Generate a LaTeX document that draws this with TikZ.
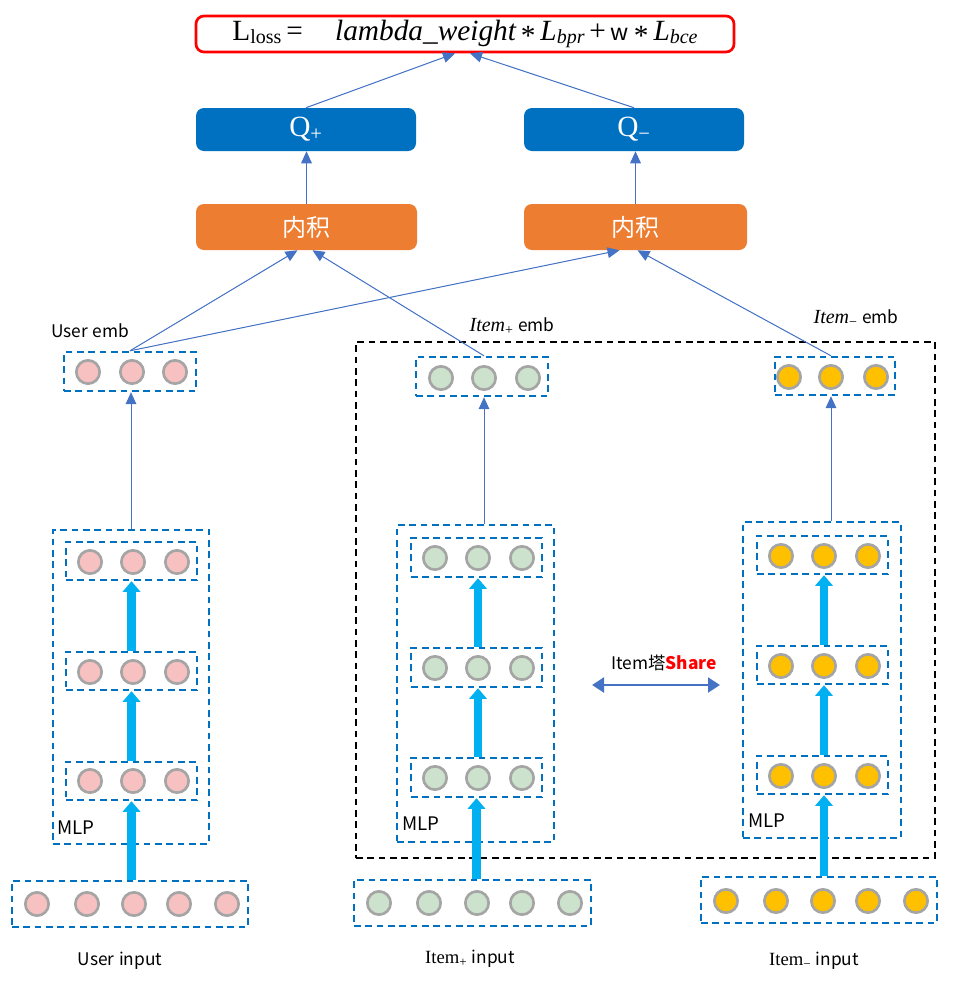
\documentclass[tikz,border=0pt]{standalone}
\usepackage{fontspec}
\newfontfamily\cjk{Noto Sans CJK SC}
\newfontfamily\cam{Liberation Serif}
\usetikzlibrary{arrows.meta,calc}
\definecolor{lblue}{HTML}{4472C4}
\definecolor{dblue}{HTML}{0070C0}
\definecolor{ora}{HTML}{ED7D31}
\definecolor{cyanarr}{HTML}{00B0F0}
\definecolor{pinkc}{HTML}{F8C1C1}
\definecolor{greenc}{HTML}{CCE2CC}
\definecolor{yelc}{HTML}{FFC000}
\definecolor{grayc}{HTML}{A5A5A5}
\newcommand\pbox[7]{\node[#6,inner sep=0pt,minimum width={(#4-#2)*0.75pt},minimum height={(#5-#3)*0.75pt}] (#1) at ({(#2+#4)/2},{(#3+#5)/2}) {#7};}
\newcommand\nrow[4]{\foreach \xx [count=\i] in {#4} {\node[neuron,fill=#3] (#1-\i) at (\xx,#2) {};}}
\newcommand\myast{\raisebox{-0.35ex}{*}}
\newcommand\bigsub[1]{\raisebox{-0.25ex}{\fontsize{15}{17}\selectfont #1}}
\begin{document}
\begin{tikzpicture}[x=0.75pt,y=-0.75pt,
  neuron/.style={circle,draw=grayc,line width=2pt,minimum size=17.5pt,inner sep=0pt},
  layerbox/.style={draw=dblue,line width=1.8pt,dash pattern=on 5pt off 3.5pt},
  sharebox/.style={draw=black,line width=1.5pt,dash pattern=on 5pt off 3.5pt},
  thinarr/.style={draw=lblue,line width=0.75pt,-{Triangle[length=9pt,width=8pt]},fill=lblue},
  thickarr/.style={draw=cyanarr,line width=6.5pt,-{Triangle[length=8pt,width=13pt]},fill=cyanarr},
  qbox/.style={fill=dblue,rounded corners=6pt,text=white,font=\cam\fontsize{22}{24}\selectfont},
  dotbox/.style={fill=ora,rounded corners=6pt,text=white,font=\cjk\fontsize{18}{20}\selectfont},
  lbl/.style={font=\cjk\fontsize{13}{15}\selectfont,inner sep=0pt},
]
\useasboundingbox (0,0) rectangle (953,982);
% loss
\pbox{loss}{196}{16}{734}{52}{draw=red,line width=2pt,rounded corners=6pt,font=\cam\fontsize{22}{24}\selectfont}{L\bigsub{loss}\,=\hspace{1.1em}{\itshape lambda\_weight}\,\myast\,{\itshape L}\bigsub{\itshape bpr}\,+\,{\cjk\fontsize{17}{20}\selectfont w}\,\myast\,{\itshape L}\bigsub{\itshape bce}}
% Q boxes
\pbox{qp}{196}{108}{416}{151}{qbox}{Q\textsubscript{+}}
\pbox{qm}{524}{108}{744}{151}{qbox}{Q\textsubscript{−}}
% inner product
\pbox{ipl}{196}{204}{417}{250}{dotbox}{内积}
\pbox{ipr}{524}{204}{747}{250}{dotbox}{内积}
% share region
\pbox{share}{356}{342}{935}{858}{sharebox}{}
% emb boxes
\pbox{uemb}{64}{352}{196}{391}{layerbox}{}
\nrow{ue}{372}{pinkc}{88,132,175}
\pbox{pemb}{416}{357}{548}{396}{layerbox}{}
\nrow{pe}{378}{greenc}{441,484,528}
\pbox{memb}{775}{357}{895}{395}{layerbox}{}
\nrow{me}{377}{yelc}{789,831,876}
% labels
\node[lbl] (uemblbl) at (90,331) {User\hspace{0.25em}emb};
\node[lbl] (pemblbl) at (512,326) {{\cam\itshape\fontsize{15}{17}\selectfont Item}{\cam\fontsize{15}{17}\selectfont\textsubscript{+}}\hspace{0.25em}emb};
\node[lbl] (memblbl) at (856,318) {{\cam\itshape\fontsize{15}{17}\selectfont Item}{\cam\fontsize{15}{17}\selectfont\textsubscript{−}}\hspace{0.25em}emb};
% user MLP
\pbox{umlp}{53}{530}{209}{844}{layerbox}{}
\pbox{ul1}{66}{542}{197}{580}{layerbox}{}
\pbox{ul2}{66}{652}{197}{690}{layerbox}{}
\pbox{ul3}{66}{762}{197}{800}{layerbox}{}
\nrow{ua}{562}{pinkc}{90,133,177}
\nrow{ub}{672}{pinkc}{90,133,177}
\nrow{uc}{781}{pinkc}{90,133,177}
\node[lbl,anchor=west,font=\cjk\fontsize{14}{16}\selectfont] (umlplbl) at (57,828) {MLP};
% item+ MLP
\pbox{pmlp}{397}{525}{554}{842}{layerbox}{}
\pbox{pl1}{411}{538}{542}{577}{layerbox}{}
\pbox{pl2}{411}{648}{542}{687}{layerbox}{}
\pbox{pl3}{411}{758}{542}{797}{layerbox}{}
\nrow{pa}{558}{greenc}{435,478,522}
\nrow{pb}{668}{greenc}{435,478,522}
\nrow{pc}{778}{greenc}{435,478,522}
\node[lbl,anchor=west,font=\cjk\fontsize{14}{16}\selectfont] (pmlplbl) at (402,824) {MLP};
% item- MLP
\pbox{mmlp}{743}{522}{901}{838}{layerbox}{}
\pbox{ml1}{757}{536}{888}{574}{layerbox}{}
\pbox{ml2}{757}{646}{888}{684}{layerbox}{}
\pbox{ml3}{757}{756}{888}{794}{layerbox}{}
\nrow{ma}{556}{yelc}{781,824,868}
\nrow{mb}{666}{yelc}{781,824,868}
\nrow{mc}{776}{yelc}{781,824,868}
\node[lbl,anchor=west,font=\cjk\fontsize{14}{16}\selectfont] (mmlplbl) at (748,821) {MLP};
% inputs
\pbox{uin}{12}{881}{248}{927}{layerbox}{}
\nrow{ui}{904}{pinkc}{37,87,134,179,227}
\pbox{pin}{354}{880}{591}{926}{layerbox}{}
\nrow{pi}{903}{greenc}{379,429,477,522,570}
\pbox{min}{701}{877}{937}{923}{layerbox}{}
\nrow{mi}{901}{yelc}{726,776,823,868,916}
\node[lbl] (uinlbl) at (120,961) {User\hspace{0.25em}input};
\node[lbl] (pinlbl) at (470,959) {{\cam\fontsize{14}{16}\selectfont Item\textsubscript{+}}\hspace{0.25em}input};
\node[lbl] (minlbl) at (814,961) {{\cam\fontsize{14}{16}\selectfont Item\textsubscript{−}}\hspace{0.25em}input};
% share arrow
\node[lbl] (sharelbl) at (664,663) {Item塔\textcolor{red}{\bfseries Share}};
\coordinate (shl) at (592,685);
\coordinate (shr) at (720,685);
\draw[draw=lblue,line width=2.2pt,{Triangle[length=9pt,width=11pt]}-{Triangle[length=9pt,width=11pt]}] (shl) -- (shr);
% thick arrows
\draw[thickarr] (uin.north -| ul3.south) -- (ul3.south);
\draw[thickarr] (ul3.north) -- (ul2.south);
\draw[thickarr] (ul2.north) -- (ul1.south);
\draw[thickarr] ($(pin.north)+(4,0)$) -- ($(pl3.south)+(0,0)$);
\draw[thickarr] (pl3.north -| pb-2) -- (pl2.south -| pb-2);
\draw[thickarr] (pl2.north -| pb-2) -- (pl1.south -| pb-2);
\draw[thickarr] (min.north -| mb-2) -- (ml3.south -| mb-2);
\draw[thickarr] (ml3.north -| mb-2) -- (ml2.south -| mb-2);
\draw[thickarr] (ml2.north -| mb-2) -- (ml1.south -| mb-2);
% thin arrows MLP -> emb
\draw[thinarr] (umlp.north) -- (uemb.south -| umlp.north);
\draw[thinarr] (pmlp.north -| pe-2) -- (pemb.south -| pe-2);
\draw[thinarr] (mmlp.north -| me-2) -- (memb.south -| me-2);
% emb -> inner product
\draw[thinarr] (uemb.north) -- ($(ipl.south)+(-9,0)$);
\draw[thinarr] (pemb.north -| pe-2) -- ($(ipl.south)+(6,0)$);
\draw[thinarr] (uemb.north) -- ($(ipr.south)+(-16,0)$);
\draw[thinarr] (memb.north -| me-2) -- ($(ipr.south)+(2,0)$);
% inner product -> Q
\draw[thinarr] (ipl.north) -- (qp.south -| ipl.north);
\draw[thinarr] (ipr.north) -- (qm.south -| ipr.north);
% Q -> loss
\draw[thinarr] (qp.north) -- ($(loss.south)+(-10,0)$);
\draw[thinarr] (qm.north) -- ($(loss.south)+(5,0)$);
\end{tikzpicture}
\end{document}
